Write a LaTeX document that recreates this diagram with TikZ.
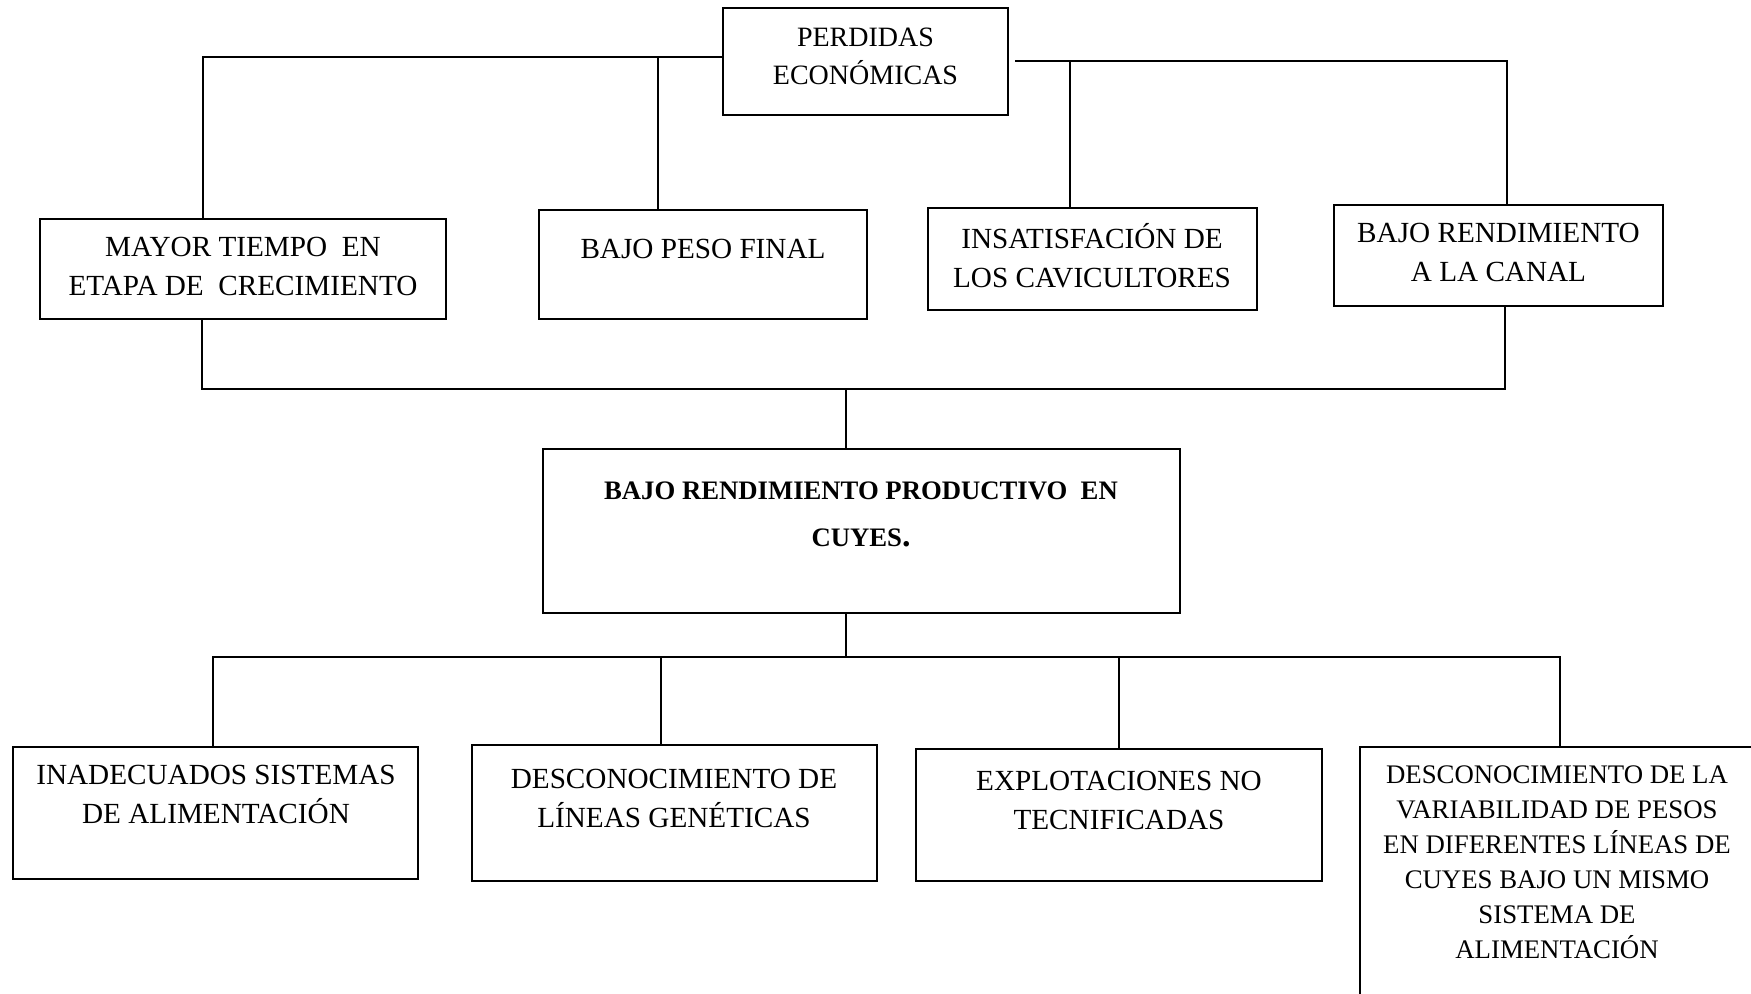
\documentclass[tikz,border=0pt]{standalone}
\usepackage{fontspec}
\setmainfont{Liberation Serif}
\begin{document}
\begin{tikzpicture}[x=0.5pt,y=-0.5pt,
  box/.style={draw=black,line width=1pt,inner sep=0pt,rectangle},
  txt/.style={align=center,inner sep=0pt,font=\fontsize{14.6}{19.5}\selectfont},
  conn/.style={draw=black,line width=0.75pt}]
\useasboundingbox (0,0) rectangle (1751,993);
\clip (0,0) rectangle (1751,993);
% boxes
\node[box,minimum width=142.5pt,minimum height=53.5pt] (top) at (865.5,61.5) {};
\node[box,minimum width=203pt,minimum height=50pt] (b1) at (243,269) {};
\node[box,minimum width=164pt,minimum height=54.5pt] (b2) at (703,264.5) {};
\node[box,minimum width=164.5pt,minimum height=51pt] (b3) at (1092.5,259) {};
\node[box,minimum width=164.5pt,minimum height=50.5pt] (b4) at (1498.5,255.5) {};
\node[box,minimum width=318.5pt,minimum height=82pt] (cb) at (861.5,531) {};
\node[box,minimum width=202.5pt,minimum height=66pt] (c1) at (215.5,813) {};
\node[box,minimum width=202.5pt,minimum height=68pt] (c2) at (674.5,813) {};
\node[box,minimum width=203pt,minimum height=66pt] (c3) at (1119,815) {};
\node[box,minimum width=197.5pt,minimum height=176.5pt] (c4) at (1557.5,923.5) {};
% texts
\node[txt,font=\fontsize{14}{19}\selectfont] (ttop) at (865.5,56) {PERDIDAS\\ECONÓMICAS};
\node[txt] (tb1) at (243,266.5) {MAYOR TIEMPO\ \ EN\\ETAPA DE\ \ CRECIMIENTO};
\node[txt] (tb2) at (703,249) {BAJO PESO FINAL};
\node[txt] (tb3) at (1092,256) {INSATISFACIÓN DE\\LOS CAVICULTORES};
\node[txt] (tb4) at (1498.5,252) {BAJO RENDIMIENTO\\A LA CANAL};
\node[txt,font=\bfseries\fontsize{13.35}{23.5}\selectfont] (tcb) at (861,514.5) {BAJO RENDIMIENTO PRODUCTIVO\ \ EN\\CUYES{\fontsize{17}{17}\selectfont.}};
\node[txt] (tc1) at (216,794) {INADECUADOS SISTEMAS\\DE ALIMENTACIÓN};
\node[txt] (tc2) at (674,798) {DESCONOCIMIENTO DE\\LÍNEAS GENÉTICAS};
\node[txt] (tc3) at (1119,800) {EXPLOTACIONES NO\\TECNIFICADAS};
\node[txt,font=\fontsize{13.4}{17.5}\selectfont] (tc4) at (1557,862.5) {DESCONOCIMIENTO DE LA\\VARIABILIDAD DE PESOS\\EN DIFERENTES LÍNEAS DE\\CUYES BAJO UN MISMO\\SISTEMA DE\\ALIMENTACIÓN};
% junction coordinates
\coordinate (tl) at (203,57);
\coordinate (tl2) at (658,57);
\coordinate (trs) at (1015,61);
\coordinate (tr2) at (1070,61);
\coordinate (tr) at (1507,61);
\coordinate (ml) at (202,389);
\coordinate (mc) at (846,389);
\coordinate (mr) at (1505,389);
\coordinate (bc) at (846,657);
\coordinate (b1x) at (213,657);
\coordinate (b2x) at (661,657);
\coordinate (b3x) at (1119,657);
\coordinate (b4x) at (1560,657);
% connectors
\draw[conn] (top.west |- tl) -- (tl) -- (tl |- b1.north);
\draw[conn] (tl2) -- (tl2 |- b2.north);
\draw[conn] (trs) -- (tr) -- (tr |- b4.north);
\draw[conn] (tr2) -- (tr2 |- b3.north);
\draw[conn] (ml |- b1.south) -- (ml) -- (mr) -- (mr |- b4.south);
\draw[conn] (mc) -- (mc |- cb.north);
\draw[conn] (bc |- cb.south) -- (bc);
\draw[conn] (b1x |- c1.north) -- (b1x) -- (b4x) -- (b4x |- c4.north);
\draw[conn] (b2x) -- (b2x |- c2.north);
\draw[conn] (b3x) -- (b3x |- c3.north);
\end{tikzpicture}
\end{document}
